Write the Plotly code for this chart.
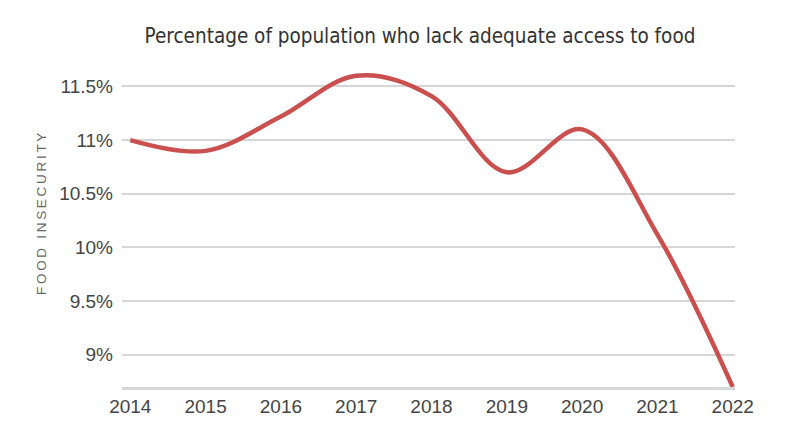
import plotly.graph_objects as go

years = [2014, 2015, 2016, 2017, 2018, 2019, 2020, 2021, 2022]
food_insecurity = [11.0, 10.9, 11.22, 11.6, 11.41, 10.7, 11.1, 10.12, 8.7]
ytick_vals = [9, 9.5, 10, 10.5, 11, 11.5]
ytick_text = ["9%", "9.5%", "10%", "10.5%", "11%", "11.5%"]

# page body adds an 8px offset, so margins are shifted to compensate
W, H = 800, 444
L, R, T, B = 114, 73, 57, 65

fig = go.Figure()
fig.add_trace(go.Scatter(
    x=years, y=food_insecurity, mode="lines",
    line=dict(color="#c9504f", width=4.5, shape="spline", smoothing=1.0),
    hoverinfo="skip"
))

thin = "\u2009"
ytitle = thin.join(list("FOOD INSECURITY"))

fig.update_layout(
    width=W, height=H,
    margin=dict(l=L, r=R, t=T, b=B),
    paper_bgcolor="white", plot_bgcolor="white",
    showlegend=False,
    title=dict(
        text="Percentage of population who lack adequate access to food",
        font=dict(family="DejaVu Sans Condensed, sans-serif", size=20.5, color="#333"),
        x=412 / W, xanchor="center", xref="container", y=1 - 28 / H, yanchor="middle"
    ),
    font=dict(family="Liberation Sans, Arial, sans-serif", size=19, color="#444"),
    xaxis=dict(
        range=[2013.89, 2022.03], tickvals=years, ticktext=[str(y) for y in years],
        showgrid=False, zeroline=False, showline=True, linecolor="#d6d6d6", linewidth=3,
        ticks="", ticklabelstandoff=0
    ),
    yaxis=dict(
        range=[8.7, 11.7], tickvals=ytick_vals, ticktext=ytick_text,
        showgrid=True, gridcolor="#d6d6d6", gridwidth=2, zeroline=False, showline=False,
        ticks="", ticklabelstandoff=8
    ),
    annotations=[dict(
        text=ytitle, textangle=-90,
        x=(33 - L) / (W - L - R), y=(H - B - 206) / (H - T - B),
        xref="paper", yref="paper", xanchor="center", yanchor="middle",
        showarrow=False, font=dict(size=13.5, color="#666")
    )]
)

fig.write_html("out.html")
